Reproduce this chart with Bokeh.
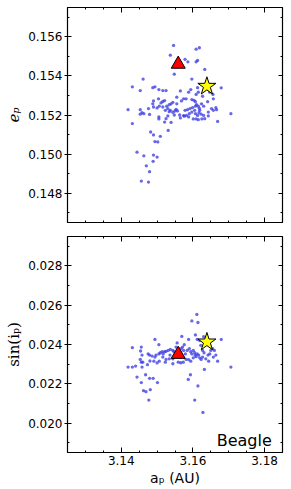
from bokeh.plotting import figure
from bokeh.layouts import column
from bokeh.models import (Range1d, FixedTicker, LinearAxis, Label,
                          NumeralTickFormatter, CustomJSTickFormatter)
from bokeh.embed import file_html
from bokeh.resources import INLINE

# ---------------- data ----------------
a_top = [3.1546, 3.1537, 3.1609, 3.1618, 3.1578, 3.1586, 3.1609, 3.1613, 3.1633, 3.1548,
         3.1597, 3.1461, 3.1431, 3.1453, 3.1488, 3.1494, 3.1505, 3.1516, 3.1525, 3.1565,
         3.1588, 3.1594, 3.1613, 3.1609, 3.1615, 3.1627, 3.1656, 3.1679, 3.1647, 3.1643,
         3.1419, 3.1453, 3.1458, 3.1463, 3.1476, 3.1488, 3.1490, 3.1504, 3.1490, 3.1500,
         3.1506, 3.1511, 3.1516, 3.1521, 3.1516, 3.1527, 3.1534, 3.1539, 3.1544, 3.1555,
         3.1555, 3.1568, 3.1574, 3.1581, 3.1597, 3.1603, 3.1607, 3.1610, 3.1615, 3.1624,
         3.1630, 3.1641, 3.1657, 3.1664, 3.1666, 3.1706, 3.1669, 3.1431, 3.1453, 3.1479,
         3.1505, 3.1505, 3.1523, 3.1530, 3.1534, 3.1537, 3.1544, 3.1550, 3.1553, 3.1557,
         3.1548, 3.1530, 3.1525, 3.1521, 3.1539, 3.1531, 3.1509, 3.1502, 3.1494, 3.1482,
         3.1490, 3.1574, 3.1578, 3.1585, 3.1592, 3.1597, 3.1605, 3.1607, 3.1613, 3.1617,
         3.1619, 3.1623, 3.1630, 3.1633, 3.1625, 3.1615, 3.1609, 3.1601, 3.1588, 3.1582,
         3.1565, 3.1563, 3.1643, 3.1643, 3.1652, 3.1657, 3.1576, 3.1590, 3.1599, 3.1607,
         3.1618, 3.1444, 3.1463, 3.1490, 3.1500, 3.1489, 3.1470, 3.1479, 3.1456, 3.1476]
e_top = [0.15556, 0.15506, 0.15537, 0.15544, 0.15485, 0.15472, 0.15472, 0.15479, 0.15433, 0.15409,
         0.15384, 0.15384, 0.15344, 0.15325, 0.15340, 0.15344, 0.15330, 0.15325, 0.15325, 0.15323,
         0.15317, 0.15330, 0.15340, 0.15305, 0.15317, 0.15296, 0.15305, 0.15339, 0.15317, 0.15330,
         0.15227, 0.15227, 0.15212, 0.15207, 0.15233, 0.15257, 0.15272, 0.15283, 0.15241, 0.15236,
         0.15245, 0.15262, 0.15269, 0.15274, 0.15241, 0.15245, 0.15253, 0.15257, 0.15265, 0.15291,
         0.15257, 0.15272, 0.15283, 0.15283, 0.15279, 0.15275, 0.15268, 0.15253, 0.15245, 0.15257,
         0.15245, 0.15268, 0.15283, 0.15238, 0.15227, 0.15207, 0.15167, 0.15156, 0.15204, 0.15203,
         0.15190, 0.15180, 0.15224, 0.15233, 0.15217, 0.15224, 0.15214, 0.15221, 0.15229, 0.15221,
         0.15200, 0.15195, 0.15181, 0.15164, 0.15162, 0.15121, 0.15091, 0.15062, 0.15064, 0.15113,
         0.15098, 0.15197, 0.15224, 0.15227, 0.15233, 0.15215, 0.15224, 0.15207, 0.15198, 0.15212,
         0.15224, 0.15204, 0.15198, 0.15181, 0.15180, 0.15176, 0.15180, 0.15180, 0.15190, 0.15198,
         0.15185, 0.15200, 0.15215, 0.15195, 0.15233, 0.15224, 0.15194, 0.15207, 0.15238, 0.15245,
         0.15234, 0.15010, 0.14991, 0.14995, 0.14985, 0.14963, 0.14940, 0.14910, 0.14862, 0.14857]

a_bot = [3.1611, 3.1597, 3.1614, 3.1607, 3.1679, 3.1569, 3.1630, 3.1588, 3.1612, 3.1619,
         3.1494, 3.1505, 3.1431, 3.1419, 3.1431, 3.1456, 3.1454, 3.1458, 3.1475, 3.1479,
         3.1486, 3.1494, 3.1497, 3.1505, 3.1509, 3.1514, 3.1517, 3.1521, 3.1525, 3.1531,
         3.1537, 3.1544, 3.1547, 3.1553, 3.1556, 3.1560, 3.1567, 3.1571, 3.1576, 3.1574,
         3.1579, 3.1584, 3.1590, 3.1594, 3.1597, 3.1601, 3.1605, 3.1606, 3.1609, 3.1612,
         3.1616, 3.1619, 3.1623, 3.1627, 3.1631, 3.1636, 3.1642, 3.1647, 3.1650, 3.1655,
         3.1660, 3.1664, 3.1657, 3.1669, 3.1644, 3.1632, 3.1706, 3.1601, 3.1594, 3.1588,
         3.1581, 3.1573, 3.1566, 3.1559, 3.1544, 3.1534, 3.1525, 3.1516, 3.1506, 3.1500,
         3.1491, 3.1480, 3.1473, 3.1460, 3.1456, 3.1444, 3.1456, 3.1468, 3.1479, 3.1489,
         3.1462, 3.1469, 3.1481, 3.1501, 3.1477, 3.1523, 3.1536, 3.1544, 3.1549, 3.1558,
         3.1587, 3.1593, 3.1614, 3.1605, 3.1628, 3.1453, 3.1440, 3.1458, 3.1622, 3.1627]
s_bot = [0.02553, 0.02520, 0.02512, 0.02449, 0.02426, 0.02441, 0.02440, 0.02426, 0.02426, 0.02420,
         0.02426, 0.02399, 0.02384, 0.02285, 0.02285, 0.02387, 0.02367, 0.02346, 0.02352, 0.02346,
         0.02341, 0.02336, 0.02346, 0.02352, 0.02358, 0.02363, 0.02352, 0.02363, 0.02365, 0.02370,
         0.02375, 0.02370, 0.02363, 0.02387, 0.02408, 0.02379, 0.02379, 0.02387, 0.02399, 0.02370,
         0.02352, 0.02370, 0.02379, 0.02363, 0.02352, 0.02370, 0.02358, 0.02346, 0.02338, 0.02352,
         0.02346, 0.02332, 0.02324, 0.02336, 0.02358, 0.02327, 0.02346, 0.02352, 0.02370, 0.02379,
         0.02370, 0.02346, 0.02336, 0.02315, 0.02315, 0.02273, 0.02285, 0.02332, 0.02315, 0.02323,
         0.02324, 0.02310, 0.02307, 0.02310, 0.02302, 0.02327, 0.02324, 0.02336, 0.02315, 0.02306,
         0.02315, 0.02316, 0.02297, 0.02310, 0.02310, 0.02234, 0.02206, 0.02246, 0.02228, 0.02228,
         0.02165, 0.02160, 0.02170, 0.02206, 0.02117, 0.02310, 0.02346, 0.02327, 0.02341, 0.02341,
         0.02222, 0.02246, 0.02189, 0.02117, 0.02054, 0.02324, 0.02290, 0.02285, 0.02396, 0.02370]

tri_a, tri_e, tri_s = [3.1559], [0.15460], [0.02350]
star_a, star_e, star_s = [3.1639], [0.15347], [0.02413]

x_major = [3.14, 3.16, 3.18]
x_minor = [3.125, 3.13, 3.135, 3.145, 3.15, 3.155, 3.165, 3.17, 3.175, 3.185]
e_major = [0.148, 0.150, 0.152, 0.154, 0.156]
e_minor = [0.147, 0.149, 0.151, 0.153, 0.155, 0.157]
s_major = [0.020, 0.022, 0.024, 0.026, 0.028]
s_minor = [0.019, 0.021, 0.023, 0.025, 0.027, 0.029]

TICK_FONT = "DejaVu Sans"


def blank():
    return CustomJSTickFormatter(code="return ''")


def make_axes(p, ymaj, ymin, show_x):
    xt = FixedTicker(ticks=x_major, minor_ticks=x_minor)
    yt = FixedTicker(ticks=ymaj, minor_ticks=ymin)
    p.grid.visible = False
    p.outline_line_color = "black"
    p.outline_line_width = 1.2
    for ax in p.xaxis:
        ax.ticker = xt
        ax.axis_line_color = None
        ax.major_tick_in = 5
        ax.major_tick_out = 0
        ax.minor_tick_in = 2
        ax.minor_tick_out = 0
        ax.major_label_text_font = TICK_FONT
        ax.major_label_text_font_size = "12px"
        ax.major_label_text_color = "black"
        ax.major_label_standoff = 3
        if not show_x:
            ax.formatter = blank()
            ax.major_label_standoff = 0
            ax.major_label_text_font_size = "0px"
    for ax in p.yaxis:
        ax.ticker = yt
        ax.axis_line_color = None
        ax.major_tick_in = 4
        ax.major_tick_out = 3
        ax.minor_tick_in = 2
        ax.minor_tick_out = 0
        ax.major_label_text_font = TICK_FONT
        ax.major_label_text_font_size = "12px"
        ax.major_label_text_color = "black"
        ax.major_label_standoff = 2
        ax.formatter = NumeralTickFormatter(format="0.000")
        ax.axis_label_standoff = 2
        ax.axis_label_text_font_size = "15px"
        ax.axis_label_text_color = "black"
    right = LinearAxis(ticker=yt, formatter=blank(), axis_line_color=None,
                       major_tick_in=4, major_tick_out=0, minor_tick_in=2, minor_tick_out=0,
                       major_label_standoff=0, major_label_text_font_size="0px")
    top = LinearAxis(ticker=xt, formatter=blank(), axis_line_color=None,
                     major_tick_in=5, major_tick_out=0, minor_tick_in=2, minor_tick_out=0,
                     major_label_standoff=0, major_label_text_font_size="0px")
    p.add_layout(right, "right")
    p.add_layout(top, "above")


W = 289
p1 = figure(width=W, height=229, x_range=Range1d(3.125, 3.185), y_range=Range1d(0.1465, 0.1575),
            output_backend="svg", toolbar_location=None,
            min_border_left=67, min_border_right=7, min_border_top=7, min_border_bottom=7)
p1.yaxis.axis_label = "eₚ"
p1.yaxis.axis_label_text_font = "DejaVu Serif"
p1.yaxis.axis_label_text_font_style = "italic"
make_axes(p1, e_major, e_minor, False)
p1.scatter(a_top, e_top, size=3.3, color="#3535e0", alpha=0.75, line_color=None)
p1.scatter(tri_a, tri_e, marker="triangle", size=14, fill_color="red", line_color="black", line_width=1)
p1.scatter(star_a, star_e, marker="star", size=19, fill_color="yellow", line_color="black", line_width=1)

p2 = figure(width=W, height=259, x_range=Range1d(3.125, 3.185), y_range=Range1d(0.0185, 0.0295),
            output_backend="svg", toolbar_location=None,
            min_border_left=67, min_border_right=7, min_border_top=7, min_border_bottom=36)
p2.yaxis.axis_label = "sin(iₚ)"
p2.yaxis.axis_label_text_font = "DejaVu Serif"
p2.yaxis.axis_label_text_font_style = "normal"
p2.xaxis.axis_label = "aₚ (AU)"
p2.xaxis.axis_label_text_font = "DejaVu Sans"
p2.xaxis.axis_label_text_font_style = "normal"
p2.xaxis.axis_label_text_font_size = "14px"
p2.xaxis.axis_label_text_color = "black"
p2.xaxis.axis_label_standoff = 2
make_axes(p2, s_major, s_minor, True)
p2.scatter(a_bot, s_bot, size=3.3, color="#3535e0", alpha=0.75, line_color=None)
p2.scatter(tri_a, tri_s, marker="triangle", size=14, fill_color="red", line_color="black", line_width=1)
p2.scatter(star_a, star_s, marker="star", size=19, fill_color="yellow", line_color="black", line_width=1)
p2.add_layout(Label(x=3.182, y=0.0191, text="Beagle", text_align="right",
                    text_baseline="alphabetic", text_font="DejaVu Sans",
                    text_font_size="16px", text_color="black"))

layout = column(p1, p2, spacing=0)
open("out.html", "w").write(file_html(layout, INLINE))
